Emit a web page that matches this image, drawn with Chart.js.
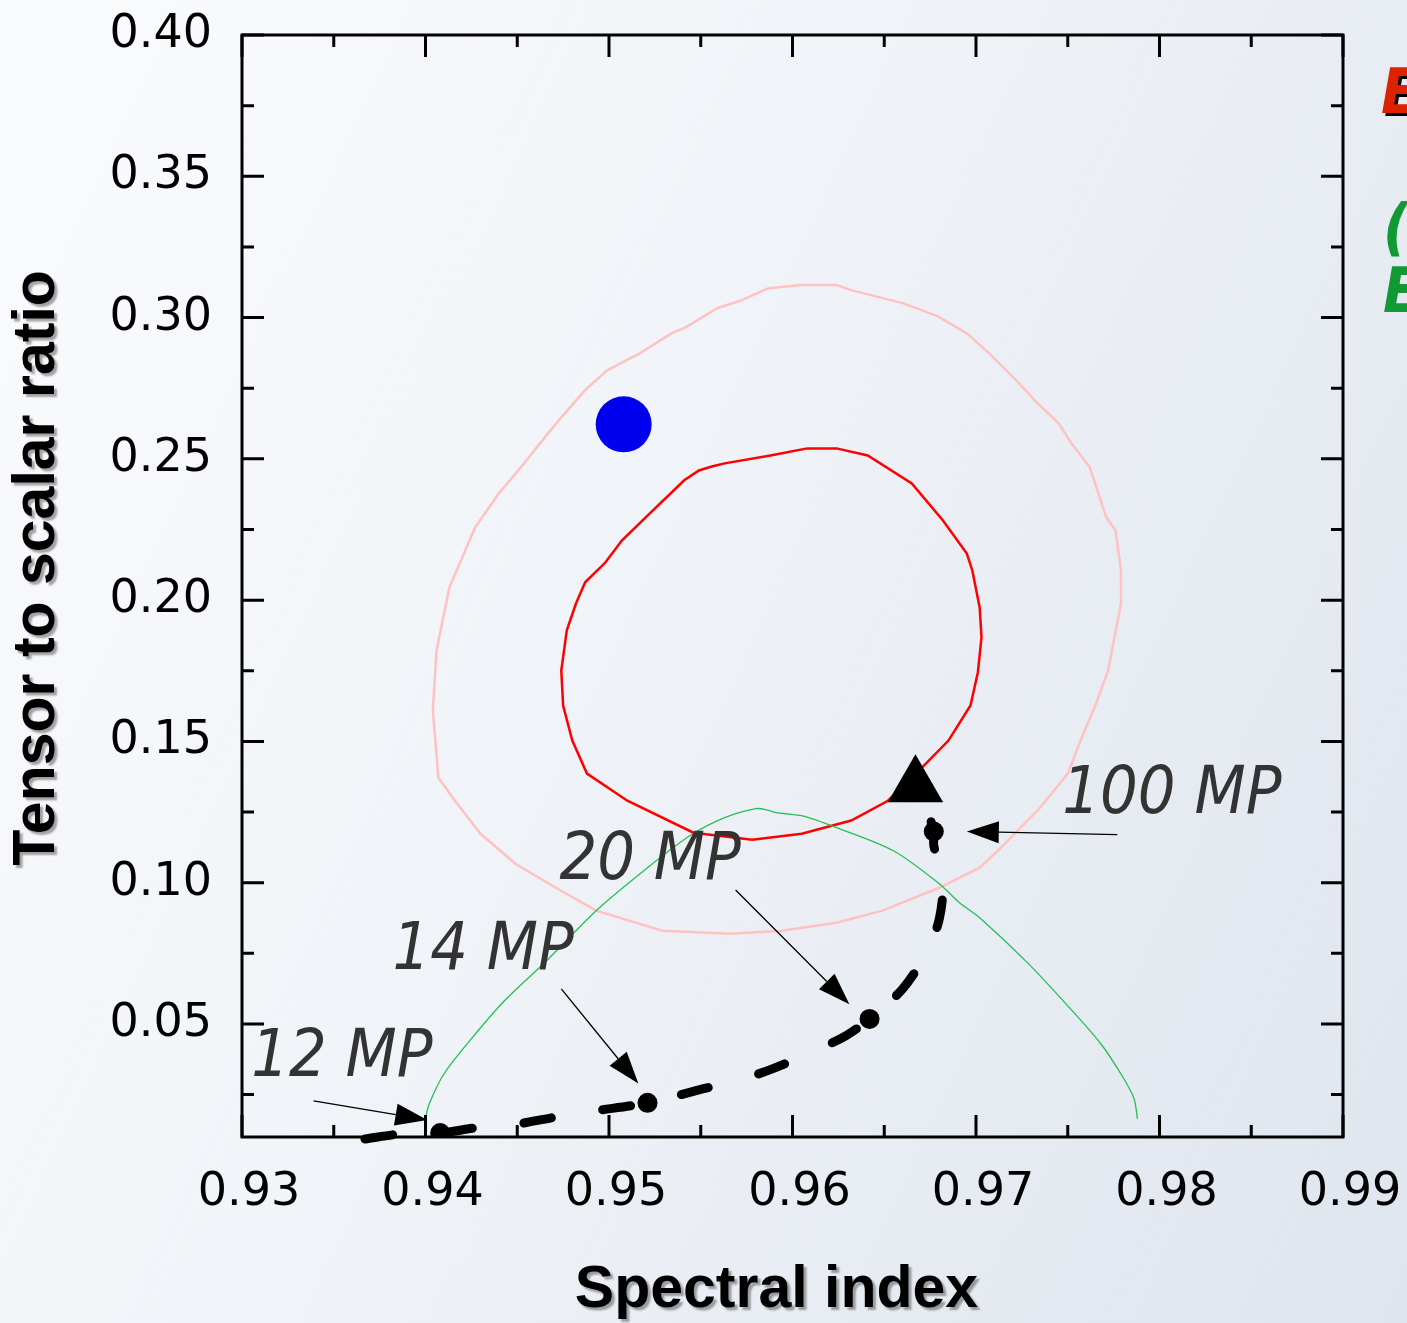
<!DOCTYPE html>
<html>
<head>
<meta charset="utf-8">
<script src="https://cdn.jsdelivr.net/npm/chart.js@4.4.1/dist/chart.umd.min.js"></script>
<style>
html, body { margin: 0; padding: 0; }
body {
    width: 1407px; height: 1323px; overflow: hidden;
    background: linear-gradient(115deg, #fafbfd 0%, #f1f4f8 40%, #dfe5ee 100%);
}
#wrap { position: relative; width: 1407px; height: 1323px; }
</style>
</head>
<body>
<div id="wrap"><canvas id="rChart"></canvas></div>
<script>
// inner (68%) contour
var innerX = [0.9608,0.9624,0.9641,0.9665,0.9682,0.9695,0.9698,0.9702,0.9703,0.9701,0.9697,0.9685,0.9670,0.9652,0.9632,0.9605,0.9578,0.9546,0.9510,0.9488,0.9480,0.9475,0.9474,0.9477,0.9482,0.9487,0.9498,0.9507,0.9520,0.9541,0.9549,0.9556,0.9563,0.9588,0.9608];
var innerY = [0.2537,0.2537,0.2512,0.2413,0.2282,0.2165,0.2105,0.1974,0.1868,0.1744,0.1627,0.1503,0.1404,0.1290,0.1220,0.1173,0.1152,0.1177,0.1290,0.1386,0.1503,0.1627,0.1751,0.1893,0.1988,0.2063,0.2133,0.2211,0.2293,0.2424,0.2459,0.2473,0.2484,0.2512,0.2537];

// outer (95%) contour
var outerX = [0.9587,0.9605,0.9624,0.9632,0.9660,0.9679,0.9695,0.9707,0.9722,0.9732,0.9745,0.9752,0.9762,0.9771,0.9776,0.9779,0.9779,0.9772,0.9765,0.9757,0.9750,0.9735,0.9713,0.9702,0.9680,0.9649,0.9624,0.9594,0.9566,0.9529,0.9493,0.9471,0.9449,0.9430,0.9416,0.9407,0.9404,0.9406,0.9413,0.9427,0.9440,0.9452,0.9465,0.9474,0.9487,0.9499,0.9517,0.9534,0.9542,0.9559,0.9572,0.9587];
var outerY = [0.3104,0.3115,0.3115,0.3097,0.3051,0.3005,0.2944,0.2874,0.2778,0.2707,0.2626,0.2555,0.2470,0.2293,0.2247,0.2105,0.1988,0.1751,0.1627,0.1503,0.1386,0.1266,0.1120,0.1053,0.0982,0.0901,0.0858,0.0830,0.0819,0.0830,0.0901,0.0982,0.1067,0.1173,0.1290,0.1372,0.1609,0.1822,0.2045,0.2257,0.2378,0.2470,0.2576,0.2647,0.2743,0.2813,0.2874,0.2944,0.2966,0.3033,0.3061,0.3104];

// green arc
var greenX = [0.9400,0.9402,0.9410,0.9424,0.9443,0.9466,0.9493,0.9521,0.9544,0.9563,0.9580,0.9586,0.9591,0.9605,0.9624,0.9655,0.9680,0.9691,0.9702,0.9728,0.9751,0.9768,0.9779,0.9786,0.9788];
var greenY = [0.0168,0.0217,0.0323,0.0440,0.0582,0.0724,0.0901,0.1053,0.1166,0.1230,0.1262,0.1258,0.1248,0.1237,0.1195,0.1113,0.0996,0.0929,0.0876,0.0717,0.0557,0.0430,0.0323,0.0238,0.0164];

// dashed model track
var trackX = [0.9367,0.9387,0.9408,0.9427,0.9450,0.9468,0.9492,0.9521,0.9551,0.9573,0.9589,0.9612,0.9629,0.9642,0.9660,0.9673,0.9680,0.9682,0.9677,0.9677,0.9673,0.9670];
var trackY = [0.0093,0.0111,0.0114,0.0132,0.0146,0.0167,0.0192,0.0221,0.0270,0.0306,0.0341,0.0405,0.0458,0.0518,0.0624,0.0752,0.0872,0.1018,0.1131,0.1181,0.1262,0.1308];

// marked points on the track
var markX = [0.9408, 0.9521, 0.9642, 0.9677];
var markY = [0.0114, 0.0221, 0.0518, 0.1181];

var blueX = [0.9508], blueY = [0.2622];
var triX = [0.9667], triY = [0.1341];

// labels + arrows
var labelText = ['12 MP', '14 MP', '20 MP', '100 MP'];
var labelX = [0.9305, 0.9382, 0.9473, 0.9747];
var labelY = [0.0316, 0.0695, 0.1014, 0.1248];
var arrowFromX = [0.9339, 0.9474, 0.9569, 0.9777];
var arrowFromY = [0.0228, 0.0624, 0.0974, 0.1170];
var arrowToX = [0.9401, 0.9516, 0.9631, 0.9695];
var arrowToY = [0.0160, 0.0289, 0.0570, 0.1181];

function pts(xs, ys) {
    return xs.map(function (v, i) { return {x: v, y: ys[i]}; });
}

// fixed axis boxes, no label overhang padding
function fitBox(size) {
    return function (s) {
        if (s.isHorizontal()) s.height = size; else s.width = size;
        s.paddingTop = 0; s.paddingBottom = 0;
        s.paddingLeft = 0; s.paddingRight = 0;
    };
}

var decor = {
    id: 'decor',
    afterDatasetsDraw: function (chart) {
        var ctx = chart.ctx, x = chart.scales.x, y = chart.scales.y;
        ctx.save();
        ctx.strokeStyle = '#000';
        ctx.fillStyle = '#000';
        ctx.lineWidth = 1.3;
        for (var i = 0; i < arrowFromX.length; i++) {
            var x0 = x.getPixelForValue(arrowFromX[i]), y0 = y.getPixelForValue(arrowFromY[i]);
            var x1 = x.getPixelForValue(arrowToX[i]), y1 = y.getPixelForValue(arrowToY[i]);
            var ang = Math.atan2(y1 - y0, x1 - x0);
            var hl = 32, hw = 11;
            ctx.beginPath();
            ctx.moveTo(x0, y0);
            ctx.lineTo(x1 - Math.cos(ang) * hl, y1 - Math.sin(ang) * hl);
            ctx.stroke();
            ctx.beginPath();
            ctx.moveTo(x1, y1);
            ctx.lineTo(x1 - Math.cos(ang) * hl - Math.sin(ang) * hw, y1 - Math.sin(ang) * hl + Math.cos(ang) * hw);
            ctx.lineTo(x1 - Math.cos(ang) * hl + Math.sin(ang) * hw, y1 - Math.sin(ang) * hl - Math.cos(ang) * hw);
            ctx.closePath();
            ctx.fill();
        }
        ctx.fillStyle = '#333';
        ctx.font = 'italic 66px "DejaVu Sans Condensed", "DejaVu Sans", sans-serif';
        ctx.textBaseline = 'alphabetic';
        ctx.textAlign = 'left';
        for (var j = 0; j < labelText.length; j++) {
            ctx.fillText(labelText[j], x.getPixelForValue(labelX[j]), y.getPixelForValue(labelY[j]));
        }
        ctx.restore();
    },
    afterDraw: function (chart) {
        var ctx = chart.ctx, a = chart.chartArea, x = chart.scales.x, y = chart.scales.y;
        ctx.save();
        ctx.strokeStyle = '#000';
        ctx.lineWidth = 3;
        ctx.strokeRect(a.left, a.top, a.right - a.left, a.bottom - a.top);

        // inward ticks on all four sides
        function tickX(v, len) {
            var p = x.getPixelForValue(v);
            ctx.beginPath();
            ctx.moveTo(p, a.bottom); ctx.lineTo(p, a.bottom - len);
            ctx.moveTo(p, a.top); ctx.lineTo(p, a.top + len);
            ctx.stroke();
        }
        function tickY(v, len) {
            var p = y.getPixelForValue(v);
            ctx.beginPath();
            ctx.moveTo(a.left, p); ctx.lineTo(a.left + len, p);
            ctx.moveTo(a.right, p); ctx.lineTo(a.right - len, p);
            ctx.stroke();
        }
        x.ticks.forEach(function (t) {
            tickX(t.value, 22);
            if (t.value - 0.005 > x.min + 1e-6) tickX(t.value - 0.005, 12);
        });
        y.ticks.forEach(function (t) {
            tickY(t.value, 22);
            if (t.value - 0.025 > y.min + 1e-6) tickY(t.value - 0.025, 12);
        });

        // axis titles with soft shadow
        ctx.fillStyle = '#000';
        ctx.font = 'bold 59px "Liberation Sans", Arial, sans-serif';
        ctx.textAlign = 'center';
        ctx.textBaseline = 'middle';
        ctx.shadowColor = 'rgba(0,0,0,0.35)';
        ctx.shadowOffsetX = 3;
        ctx.shadowOffsetY = 3;
        ctx.shadowBlur = 2;
        ctx.fillText('Spectral index', (a.left + a.right) / 2 - 16, 1291);
        ctx.save();
        ctx.translate(38, (a.top + a.bottom) / 2 - 18);
        ctx.rotate(-Math.PI / 2);
        ctx.fillText('Tensor to scalar ratio', 0, 0);
        ctx.restore();

        // legend entries cut off at the right edge
        ctx.textAlign = 'left';
        ctx.textBaseline = 'alphabetic';
        ctx.font = 'italic bold 62px "DejaVu Sans Condensed", "DejaVu Sans", sans-serif';
        ctx.shadowColor = '#000';
        ctx.shadowBlur = 0;
        ctx.fillStyle = '#dd2200';
        ctx.fillText('E', 1381, 113);
        ctx.shadowColor = 'rgba(0,0,0,0)';
        ctx.fillStyle = '#119933';
        ctx.fillText('(', 1383, 248);
        ctx.fillText('E', 1383, 312);
        ctx.restore();
    }
};

new Chart(document.getElementById('rChart'), {
    type: 'scatter',
    data: {
        datasets: [{
            data: pts(markX, markY),
            pointRadius: 10,
            pointBackgroundColor: '#000',
            pointBorderWidth: 0,
            showLine: false
        }, {
            data: pts(triX, triY),
            pointStyle: 'triangle',
            pointRadius: 32,
            pointBackgroundColor: '#000',
            pointBorderWidth: 0,
            showLine: false
        }, {
            data: pts(trackX, trackY),
            showLine: true,
            borderColor: '#000',
            borderWidth: 9,
            borderDash: [28, 52],
            borderCapStyle: 'round',
            tension: 0.3,
            pointRadius: 0,
            clip: false
        }, {
            data: pts(blueX, blueY),
            pointRadius: 28,
            pointBackgroundColor: '#0000ee',
            pointBorderWidth: 0,
            showLine: false
        }, {
            data: pts(greenX, greenY),
            showLine: true,
            borderColor: '#22c055',
            borderWidth: 1.3,
            tension: 0.3,
            pointRadius: 0
        }, {
            data: pts(innerX, innerY),
            showLine: true,
            borderColor: '#ff0000',
            borderWidth: 2.5,
            tension: 0,
            pointRadius: 0
        }, {
            data: pts(outerX, outerY),
            showLine: true,
            borderColor: '#ffc2c2',
            borderWidth: 2.5,
            tension: 0,
            pointRadius: 0
        }]
    },
    options: {
        responsive: true,
        maintainAspectRatio: false,
        animation: false,
        devicePixelRatio: 1,
        layout: { padding: { top: 35, right: 64, left: 0, bottom: 0 } },
        plugins: {
            legend: { display: false },
            tooltip: { enabled: false }
        },
        scales: {
            x: {
                type: 'linear',
                min: 0.93,
                max: 0.99,
                grid: { display: false },
                border: { display: false },
                ticks: {
                    stepSize: 0.01,
                    includeBounds: false,
                    color: '#000',
                    padding: 20,
                    labelOffset: 7,
                    maxRotation: 0,
                    font: { family: '"DejaVu Sans"', size: 46 },
                    callback: function (v) { return v.toFixed(2); }
                },
                afterFit: fitBox(186)
            },
            y: {
                type: 'linear',
                min: 0.01,
                max: 0.40,
                grid: { display: false },
                border: { display: false },
                ticks: {
                    stepSize: 0.05,
                    includeBounds: false,
                    color: '#000',
                    padding: 22,
                    font: { family: '"DejaVu Sans"', size: 46 },
                    callback: function (v) { return v.toFixed(2); }
                },
                afterFit: fitBox(242)
            }
        }
    },
    plugins: [decor]
});
</script>
</body>
</html>
